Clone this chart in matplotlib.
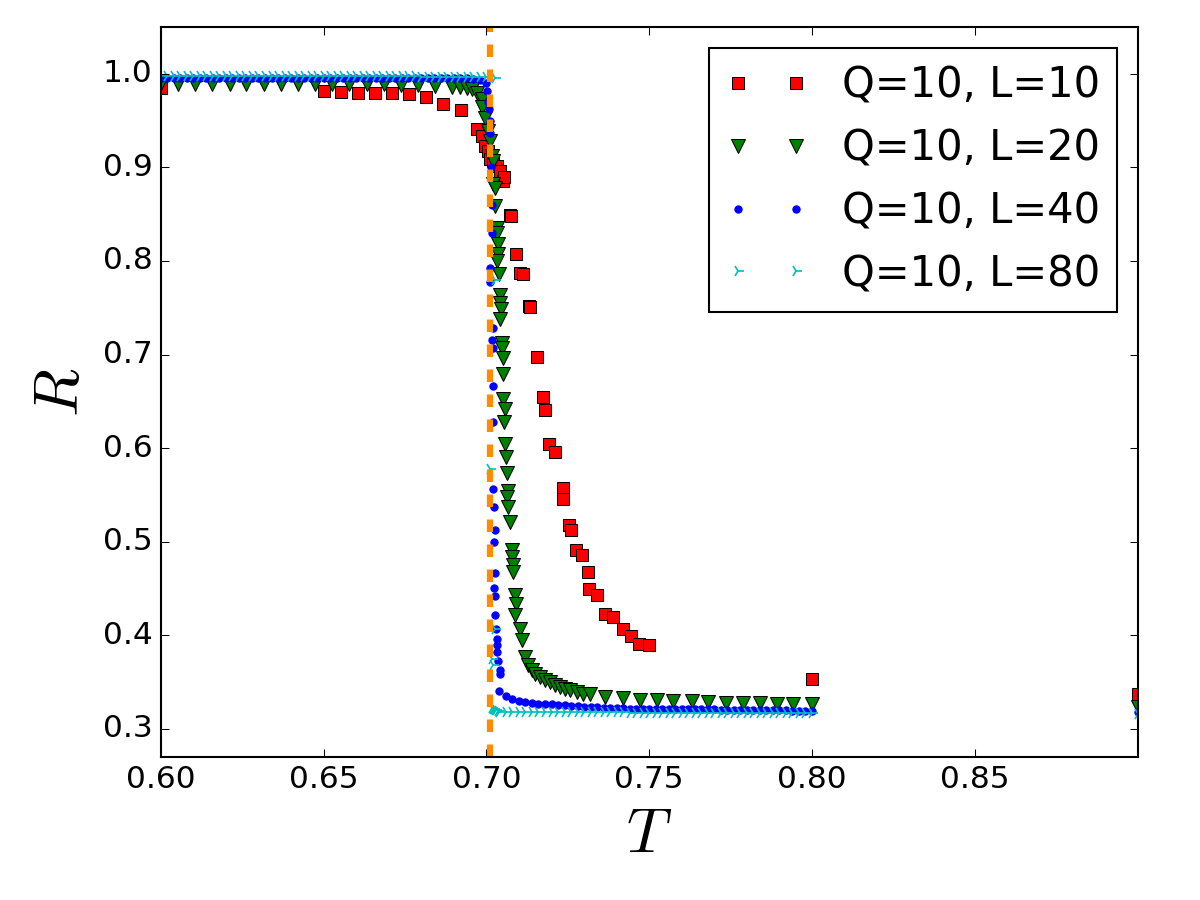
#!/usr/bin/env python3
"""
Ratio R against temperature T for the Q=10 Potts model, four lattice sizes.
"""

import matplotlib
matplotlib.use('Agg')
import matplotlib.pyplot as plt

# --- data ----------------------------------------------------------------
T_C = 0.7012  # dashed vertical marker

# shared temperature grids for L=40 and L=80
T_low = [0.600, 0.602, 0.604, 0.606, 0.608, 0.610, 0.612, 0.614, 0.616, 0.618,
         0.620, 0.622, 0.624, 0.626, 0.628, 0.630, 0.632, 0.634, 0.636, 0.638,
         0.640, 0.642, 0.644, 0.646, 0.648, 0.650, 0.652, 0.654, 0.656, 0.658,
         0.660, 0.662, 0.664, 0.666, 0.668, 0.670, 0.672, 0.674, 0.676, 0.678,
         0.680, 0.682, 0.684, 0.686, 0.688, 0.690, 0.692, 0.694, 0.696, 0.698,
         0.700]
T_high = [0.704, 0.706, 0.708, 0.710, 0.712, 0.714, 0.716, 0.718, 0.720, 0.722,
          0.724, 0.726, 0.728, 0.730, 0.732, 0.734, 0.736, 0.738, 0.740, 0.742,
          0.744, 0.746, 0.748, 0.750, 0.752, 0.754, 0.756, 0.758, 0.760, 0.762,
          0.764, 0.766, 0.768, 0.770, 0.772, 0.774, 0.776, 0.778, 0.780, 0.782,
          0.784, 0.786, 0.788, 0.790, 0.792, 0.794, 0.796, 0.798, 0.800]

# L = 10
T10 = [0.6000, 0.6500, 0.6553, 0.6605, 0.6658, 0.6711, 0.6763, 0.6816, 0.6868, 0.6921,
       0.6971, 0.6987, 0.6996, 0.7006, 0.7012, 0.7021, 0.7033, 0.7042, 0.7052, 0.7055,
       0.7073, 0.7076, 0.7092, 0.7104, 0.7113, 0.7132, 0.7135, 0.7156, 0.7175, 0.7181,
       0.7193, 0.7212, 0.7236, 0.7236, 0.7255, 0.7261, 0.7276, 0.7295, 0.7313, 0.7316,
       0.7341, 0.7365, 0.7390, 0.7418, 0.7445, 0.7470, 0.7498, 0.8000, 0.9000]
R10 = [0.985, 0.982, 0.981, 0.980, 0.979, 0.979, 0.978, 0.975, 0.968, 0.961,
       0.941, 0.934, 0.923, 0.918, 0.909, 0.907, 0.901, 0.896, 0.885, 0.890,
       0.849, 0.848, 0.807, 0.787, 0.786, 0.752, 0.751, 0.697, 0.655, 0.641,
       0.604, 0.596, 0.557, 0.546, 0.518, 0.513, 0.491, 0.486, 0.468, 0.449,
       0.443, 0.423, 0.420, 0.407, 0.399, 0.391, 0.390, 0.353, 0.337]

# L = 20
T20 = [0.6000, 0.6053, 0.6105, 0.6158, 0.6211, 0.6263, 0.6316, 0.6368, 0.6421, 0.6474,
       0.6526, 0.6579, 0.6632, 0.6684, 0.6737, 0.6789, 0.6842, 0.6895, 0.6920, 0.6940,
       0.6956, 0.6972, 0.6987, 0.6987, 0.6996, 0.7006, 0.7012, 0.7018, 0.7021, 0.7021,
       0.7027, 0.7027, 0.7033, 0.7033, 0.7036, 0.7036, 0.7033, 0.7039, 0.7042, 0.7042,
       0.7045, 0.7042, 0.7049, 0.7049, 0.7052, 0.7052, 0.7052, 0.7058, 0.7055, 0.7058,
       0.7061, 0.7064, 0.7067, 0.7064, 0.7067, 0.7073, 0.7079, 0.7079, 0.7082, 0.7082,
       0.7089, 0.7092, 0.7089, 0.7104, 0.7110, 0.7119, 0.7129, 0.7141, 0.7150, 0.7165,
       0.7181, 0.7196, 0.7212, 0.7227, 0.7242, 0.7258, 0.7279, 0.7298, 0.7319, 0.7365,
       0.7418, 0.7473, 0.7525, 0.7574, 0.7630, 0.7682, 0.7737, 0.7787, 0.7839, 0.7894,
       0.7943, 0.7999, 0.9000]
R20 = [0.990, 0.989, 0.989, 0.989, 0.989, 0.989, 0.989, 0.989, 0.989, 0.989,
       0.989, 0.989, 0.989, 0.989, 0.988, 0.988, 0.987, 0.986, 0.986, 0.985,
       0.984, 0.979, 0.973, 0.964, 0.953, 0.939, 0.928, 0.912, 0.907, 0.882,
       0.878, 0.859, 0.835, 0.830, 0.818, 0.807, 0.800, 0.786, 0.764, 0.755,
       0.749, 0.738, 0.712, 0.707, 0.696, 0.679, 0.652, 0.642, 0.628, 0.604,
       0.591, 0.573, 0.554, 0.548, 0.537, 0.521, 0.491, 0.484, 0.475, 0.468,
       0.443, 0.433, 0.422, 0.407, 0.395, 0.377, 0.368, 0.363, 0.359, 0.355,
       0.352, 0.350, 0.347, 0.345, 0.343, 0.342, 0.339, 0.337, 0.337, 0.334,
       0.333, 0.331, 0.331, 0.330, 0.330, 0.329, 0.328, 0.328, 0.328, 0.327,
       0.327, 0.327, 0.323]

# L = 40
R40_low = [0.996, 0.996, 0.996, 0.996, 0.996, 0.996, 0.996, 0.996, 0.996, 0.996,
           0.996, 0.996, 0.996, 0.996, 0.996, 0.996, 0.996, 0.996, 0.996, 0.996,
           0.996, 0.996, 0.996, 0.996, 0.996, 0.996, 0.996, 0.996, 0.996, 0.996,
           0.996, 0.996, 0.996, 0.996, 0.996, 0.996, 0.996, 0.996, 0.996, 0.996,
           0.996, 0.996, 0.996, 0.995, 0.995, 0.995, 0.995, 0.995, 0.994, 0.993]
T40_mid = [0.7000, 0.7002, 0.7005, 0.7008, 0.7012, 0.7012, 0.7015, 0.7018, 0.7018, 0.7012,
           0.7012, 0.7021, 0.7018, 0.7021, 0.7021, 0.7021, 0.7021, 0.7024, 0.7027, 0.7024,
           0.7027, 0.7024, 0.7027, 0.7027, 0.7030, 0.7033, 0.7033, 0.7033, 0.7036, 0.7042,
           0.7042]
R40_mid = [0.990, 0.982, 0.970, 0.962, 0.950, 0.937, 0.900, 0.860, 0.830, 0.792,
           0.778, 0.728, 0.716, 0.707, 0.666, 0.628, 0.556, 0.537, 0.513, 0.500,
           0.466, 0.450, 0.442, 0.422, 0.407, 0.396, 0.390, 0.382, 0.372, 0.363,
           0.359]
R40_high = [0.340, 0.335, 0.332, 0.330, 0.329, 0.328, 0.327, 0.326, 0.326, 0.325,
            0.325, 0.324, 0.324, 0.323, 0.323, 0.323, 0.322, 0.322, 0.322, 0.322,
            0.321, 0.321, 0.321, 0.321, 0.321, 0.321, 0.321, 0.321, 0.321, 0.321,
            0.321, 0.321, 0.321, 0.321, 0.320, 0.320, 0.320, 0.320, 0.320, 0.320,
            0.320, 0.320, 0.320, 0.320, 0.320, 0.319, 0.319, 0.319, 0.319]
T40_far, R40_far = [0.9000], [0.318]

# L = 80
R80_low = [0.998, 0.998, 0.998, 0.998, 0.998, 0.998, 0.998, 0.998, 0.998, 0.998,
           0.998, 0.998, 0.998, 0.998, 0.998, 0.998, 0.998, 0.998, 0.998, 0.998,
           0.998, 0.998, 0.998, 0.998, 0.998, 0.998, 0.998, 0.998, 0.998, 0.998,
           0.998, 0.998, 0.998, 0.998, 0.998, 0.998, 0.998, 0.998, 0.998, 0.998,
           0.997, 0.997, 0.997, 0.997, 0.997, 0.997, 0.997, 0.997, 0.997, 0.997,
           0.997]
T80_mid = [0.7027, 0.7027, 0.7012, 0.7027, 0.7018, 0.7021, 0.7018, 0.7021, 0.7024, 0.7027,
           0.7030, 0.7036]
R80_mid = [0.995, 0.780, 0.578, 0.407, 0.375, 0.368, 0.322, 0.321, 0.321, 0.320,
           0.320, 0.319]
R80_high = [0.318, 0.318, 0.318, 0.318, 0.318, 0.318, 0.318, 0.318, 0.318, 0.318,
            0.318, 0.318, 0.318, 0.318, 0.318, 0.318, 0.318, 0.318, 0.318, 0.318,
            0.317, 0.317, 0.317, 0.317, 0.317, 0.317, 0.317, 0.317, 0.317, 0.317,
            0.317, 0.317, 0.317, 0.317, 0.317, 0.317, 0.317, 0.317, 0.317, 0.317,
            0.317, 0.317, 0.317, 0.317, 0.317, 0.317, 0.317, 0.317, 0.317]
T80_far, R80_far = [0.9000], [0.316]

x_ticks = [0.60, 0.65, 0.70, 0.75, 0.80, 0.85]
y_ticks = [0.3, 0.4, 0.5, 0.6, 0.7, 0.8, 0.9, 1.0]

# --- assemble series ------------------------------------------------------
T40 = T_low[:-1] + T40_mid + T_high + T40_far
R40 = R40_low + R40_mid + R40_high + R40_far
T80 = T_low + T80_mid + T_high + T80_far
R80 = R80_low + R80_mid + R80_high + R80_far

for t, r in [(T10, R10), (T20, R20), (T40, R40), (T80, R80)]:
    assert len(t) == len(r), (len(t), len(r))

# --- plot -----------------------------------------------------------------
plt.style.use('classic')
fig = plt.figure(figsize=(8, 6), dpi=150)
fig.subplots_adjust(left=0.134, right=0.948, bottom=0.159, top=0.97)
ax = fig.add_subplot(111)

ax.plot(T10, R10, 's', color='r', mec='k', mew=0.5, ms=6, ls='None', label='Q=10, L=10')
ax.plot(T20, R20, 'v', color='g', mec='k', mew=0.5, ms=6.5, ls='None', label='Q=10, L=20')
ax.plot(T40, R40, '.', color='b', mec='b', ms=7, ls='None', label='Q=10, L=40')
ax.plot(T80, R80, '4', color='c', mec='c', mew=0.8, ms=6, ls='None', label='Q=10, L=80')

ax.axvline(T_C, color='darkorange', ls='--', lw=3)

ax.set_xlim(0.6, 0.9)
ax.set_ylim(0.27, 1.05)
ax.set_xticks(x_ticks)
ax.set_yticks(y_ticks)
ax.tick_params(labelsize=15)
ax.set_xlabel(r'$T$', fontsize=30)
ax.set_ylabel(r'$R$', fontsize=30)

ax.legend(loc='upper right', numpoints=2, fontsize=20)

fig.savefig('out.png', dpi=150)
plt.close(fig)
